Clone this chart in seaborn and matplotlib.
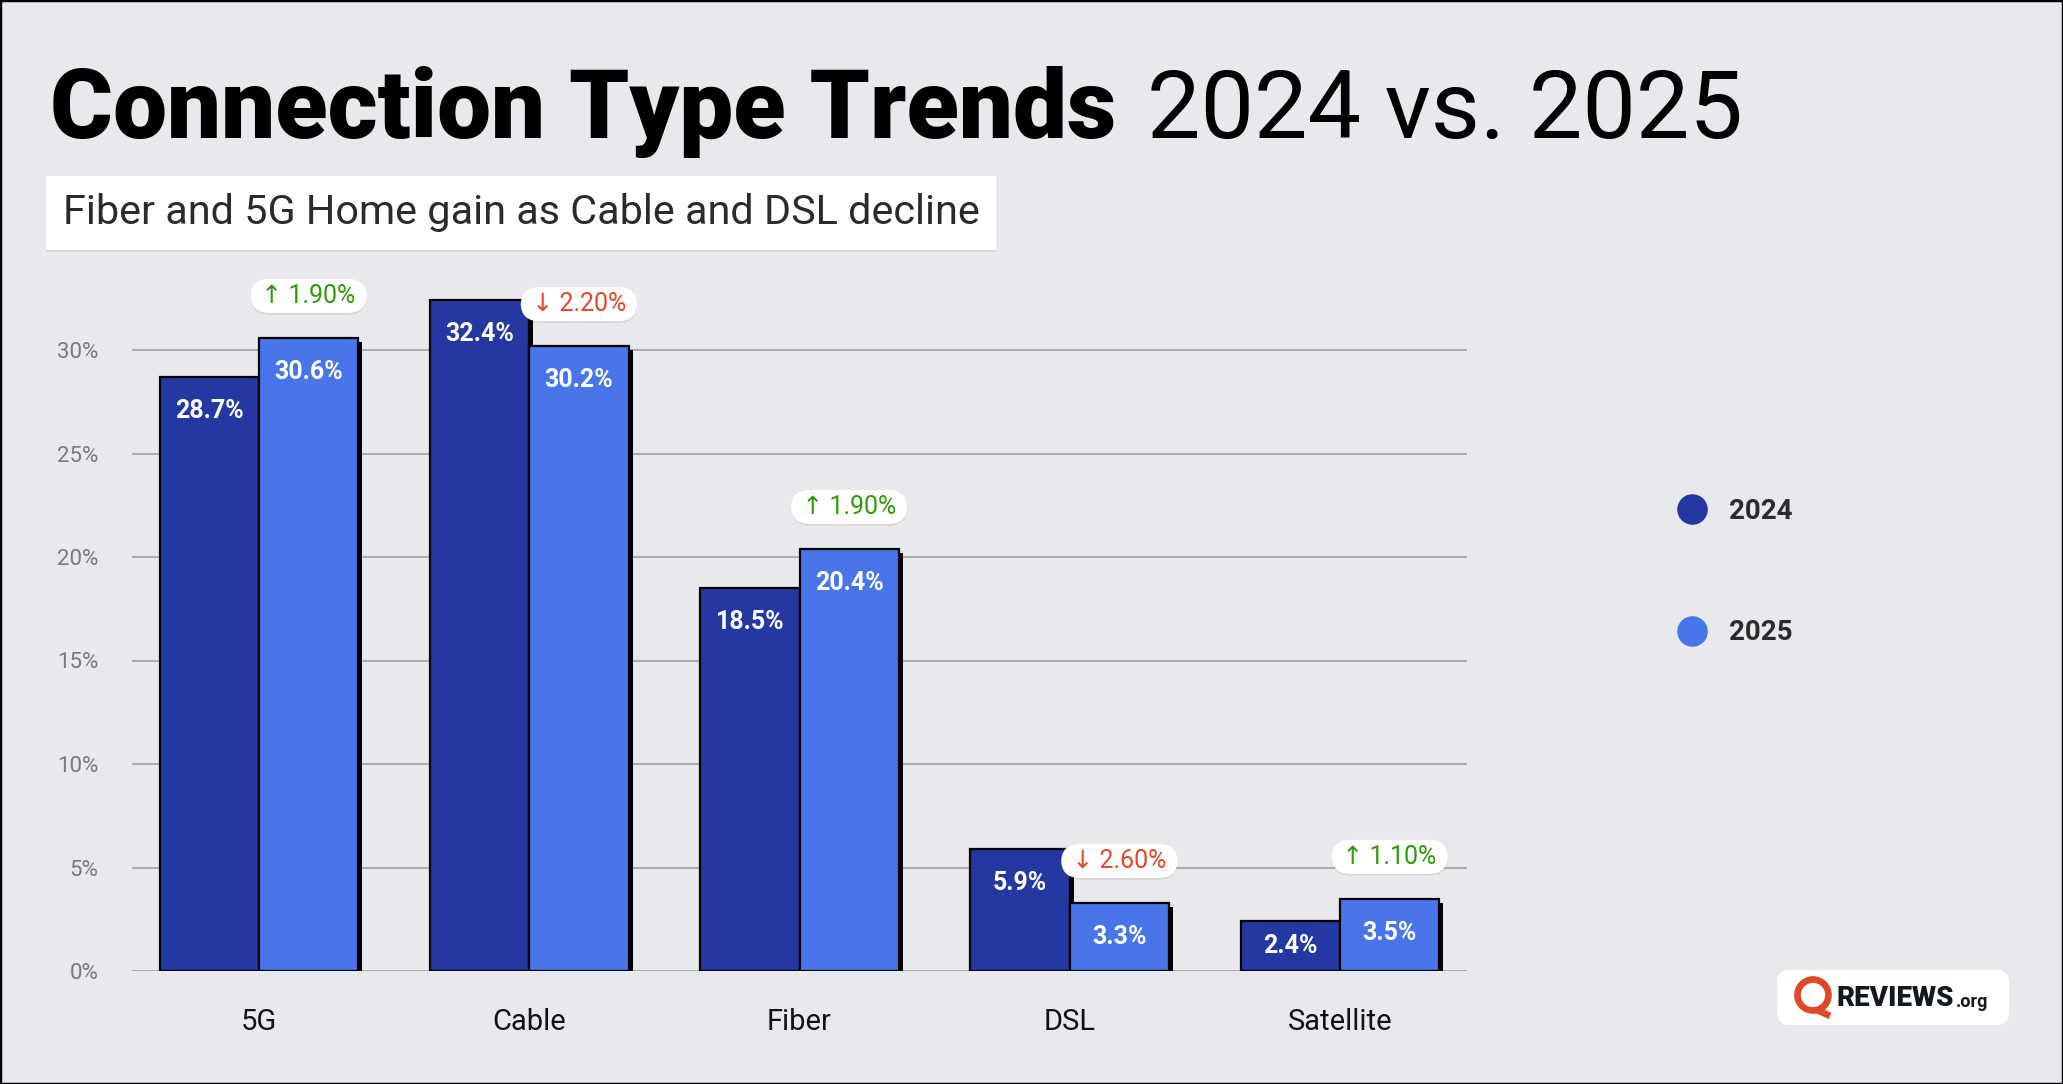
import matplotlib
matplotlib.use("Agg")
import matplotlib.pyplot as plt
import matplotlib.patheffects as pe
from matplotlib.patches import FancyBboxPatch, Rectangle, Ellipse
from matplotlib.lines import Line2D
import seaborn as sns
import pandas as pd

# ---------------- data ----------------
categories = ["5G", "Cable", "Fiber", "DSL", "Satellite"]
years = ["2024", "2025"]
values_2024 = [28.7, 32.4, 18.5, 5.9, 2.4]
values_2025 = [30.6, 30.2, 20.4, 3.3, 3.5]
changes = [1.90, -2.20, 1.90, -2.60, 1.10]
yticks = [0, 5, 10, 15, 20, 25, 30]
title_bold = "Connection Type Trends"
title_light = "2024 vs. 2025"
subtitle = "Fiber and 5G Home gain as Cable and DSL decline"

# ---------------- style ----------------
BG = "#E8E9ED"
C24 = "#2338A0"
C25 = "#4876EA"
GREEN = "#2F9A0C"
RED = "#E04A2B"
LOGO_RED = "#E0482A"

sns.set_style("white")
plt.rcParams["font.family"] = ["Roboto", "DejaVu Sans"]

W, H = 2063, 1084
fig = plt.figure(figsize=(W / 100, H / 100), dpi=100, facecolor=BG)


def fx(px):
    return px / W


def fy(py):
    return 1 - py / H


# axes: y=0 at 971px, y=30 at 350px -> ylim 35 at 246.5px
ax = fig.add_axes([fx(132), fy(971), fx(1467) - fx(132), fy(246.5) - fy(971)])
ax.set_facecolor(BG)

df = pd.DataFrame({
    "type": categories * 2,
    "year": [years[0]] * len(categories) + [years[1]] * len(categories),
    "value": values_2024 + values_2025,
})

sns.barplot(data=df, x="type", y="value", hue="year", palette=[C24, C25],
            width=0.735, saturation=1, edgecolor="black", linewidth=1.6,
            legend=False, ax=ax, zorder=3)

for p in ax.patches:
    p.set_path_effects([pe.SimplePatchShadow(offset=(3, -3), shadow_rgbFace="black", alpha=1),
                        pe.Normal()])

ax.set_xlim(-0.47, 4.47)
ax.set_ylim(0, 35)
ax.set_yticks(yticks)
ax.set_yticklabels([f"{t}%" for t in yticks])
ax.tick_params(axis="y", length=0, pad=24, labelsize=16, labelcolor="#7A7A7A")
ax.tick_params(axis="x", length=0, pad=27, labelsize=21, labelcolor="#111111")
ax.set_xlabel("")
ax.set_ylabel("")
ax.grid(axis="y", color="#9A9A9A", linewidth=1.1)
ax.grid(axis="x", visible=False)
ax.set_axisbelow(True)
for s in ax.spines.values():
    s.set_visible(False)

# value labels inside bars
for cont in ax.containers:
    for bar in cont:
        h = bar.get_height()
        x = bar.get_x() + bar.get_width() / 2
        y = max(h - 1.65, h / 2)
        ax.text(x, y, f"{h:.1f}%", ha="center", va="center", color="white",
                fontsize=18, fontweight="bold", zorder=6)

# change pills above 2025 bars
for bar, c in zip(ax.containers[1], changes):
    h = bar.get_height()
    x = bar.get_x() + bar.get_width() / 2
    arrow = "\u2191" if c > 0 else "\u2193"
    col = GREEN if c > 0 else RED
    ann = ax.annotate(f" {arrow} {abs(c):.2f}% ", xy=(x, h), xytext=(0, 30),
                      textcoords="offset points", ha="center", va="center",
                      fontsize=18, color=col, zorder=7,
                      bbox=dict(boxstyle="round,pad=0.2,rounding_size=0.75",
                                fc="white", ec="none"))
    ann.get_bbox_patch().set_path_effects([
        pe.SimplePatchShadow(offset=(0, -1.2), alpha=0.12), pe.Normal()])

# legend
handles = [Line2D([], [], marker="o", ls="", markersize=21, color=C24, label=years[0]),
           Line2D([], [], marker="o", ls="", markersize=21, color=C25, label=years[1])]
leg = fig.legend(handles=handles, loc="center left",
                 bbox_to_anchor=(fx(1639), fy(572)), frameon=False,
                 labelspacing=3.4, handletextpad=0.35,
                 prop={"family": "Roboto", "weight": "bold", "size": 20})
for t in leg.get_texts():
    t.set_color("#2B2B2B")

# title
renderer = fig.canvas.get_renderer()
t1 = fig.text(fx(50), fy(138), title_bold, fontsize=64, fontweight="black",
              color="black", va="baseline", ha="left")
w = t1.get_window_extent(renderer).width
t1.set_fontsize(64 * 1066 / w)
t2 = fig.text(fx(1147), fy(138), title_light, fontsize=60, fontweight="normal",
              color="black", va="baseline", ha="left")
w = t2.get_window_extent(renderer).width
t2.set_fontsize(60 * 596 / w)

# subtitle box
box = Rectangle((fx(46), fy(250)), fx(996) - fx(46), (250 - 176) / H,
                transform=fig.transFigure, fc="white", ec="none", zorder=1)
box.set_path_effects([pe.SimplePatchShadow(offset=(0, -1.5), alpha=0.10), pe.Normal()])
fig.add_artist(box)
st = fig.text(fx(63), fy(213), subtitle, fontsize=28, color="#2B2B2B",
              va="center", ha="left", zorder=2)
w = st.get_window_extent(renderer).width
st.set_fontsize(28 * 916 / w)

# logo
logo = FancyBboxPatch((fx(1777), fy(1025)), fx(2009) - fx(1777), (1025 - 970) / H,
                      boxstyle="round,pad=0,rounding_size=0.006",
                      transform=fig.transFigure, fc="white", ec="none",
                      mutation_aspect=W / H)
fig.add_artist(logo)
fig.add_artist(Ellipse((fx(1813), fy(995)), 31 / W, 31 / H, transform=fig.transFigure,
                       fill=False, ec=LOGO_RED, lw=4.8))
fig.add_artist(Line2D([fx(1817), fx(1830)], [fy(1010), fy(1016)], transform=fig.transFigure,
                      color=LOGO_RED, lw=4.8, solid_capstyle="butt"))
rv = fig.text(fx(1837), fy(998), "REVIEWS", fontsize=20, fontweight="black", color="#141821",
              va="center", ha="left")
rv_ext = rv.get_window_extent(renderer)
fig.text(fx(rv_ext.x1 + 1), fy(1002), ".org", fontsize=13, fontweight="bold", color="#141821",
         va="center", ha="left")

# outer border
fig.add_artist(Rectangle((0, 0), 1, 1, transform=fig.transFigure, fill=False,
                         ec="black", lw=2.5))

fig.savefig("out.png", dpi=100, facecolor=BG)
